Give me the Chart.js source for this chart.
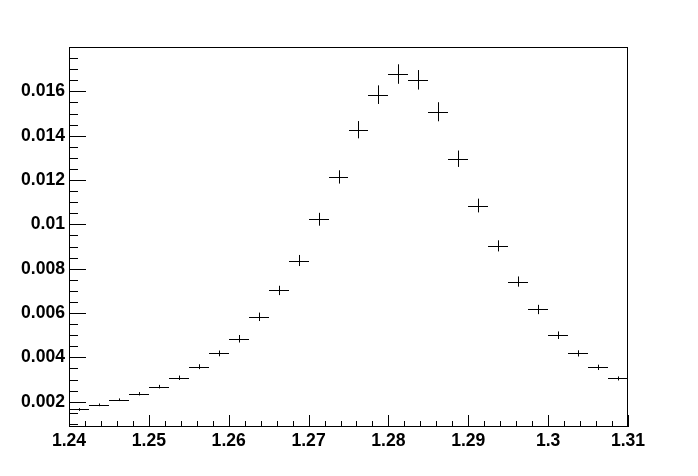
<!DOCTYPE html>
<html>
<head>
<meta charset="utf-8">
<script src="https://cdn.jsdelivr.net/npm/chart.js@4.4.1/dist/chart.umd.min.js"></script>
<style>
  html, body { margin: 0; padding: 0; background: #fff; }
  #wrap { width: 698px; height: 476px; }
</style>
</head>
<body>
<div id="wrap"><canvas id="histo" width="698" height="476"></canvas></div>
<script>
// Histogram content (bin centres, contents, errors)
const binCenters = [
    1.24125, 1.24375, 1.24625, 1.24875, 1.25125, 1.25375, 1.25625, 1.25875,
    1.26125, 1.26375, 1.26625, 1.26875, 1.27125, 1.27375, 1.27625, 1.27875,
    1.28125, 1.28375, 1.28625, 1.28875, 1.29125, 1.29375, 1.29625, 1.29875,
    1.30125, 1.30375, 1.30625, 1.30875
];
const binValues = [
    0.00165, 0.00186, 0.00209, 0.00236, 0.00268, 0.00308, 0.00358, 0.00418,
    0.00484, 0.00583, 0.00702, 0.00837, 0.01023, 0.01214, 0.01427, 0.01585,
    0.01678, 0.01652, 0.01508, 0.01296, 0.01085, 0.00903, 0.00742, 0.00616,
    0.00500, 0.00418, 0.00355, 0.00305
];
const binErrors = [
    0.00006, 0.00006, 0.00006, 0.000075, 0.00008, 0.0001, 0.00011, 0.00013,
    0.00017, 0.00019, 0.00021, 0.00025, 0.00029, 0.0003, 0.00039, 0.00042,
    0.00044, 0.00044, 0.00043, 0.00037, 0.00031, 0.00025, 0.00023, 0.00021,
    0.00017, 0.00014, 0.00012, 0.00009
];
const binWidth = 0.0025;

const xTickLabels = [1.24, 1.25, 1.26, 1.27, 1.28, 1.29, 1.3, 1.31];
const yTickLabels = [0.002, 0.004, 0.006, 0.008, 0.01, 0.012, 0.014, 0.016];

const xRange = [1.24, 1.31];
const yRange = [0.00086, 0.018];

// ROOT-like frame, inward ticks and error-bar markers
const rootStyle = {
    id: 'rootStyle',
    afterDatasetsDraw(chart) {
        const { ctx, chartArea: a, scales: { x, y } } = chart;
        ctx.save();
        ctx.strokeStyle = '#000';
        ctx.lineWidth = 1;

        // error bars
        ctx.beginPath();
        binCenters.forEach((c, i) => {
            const x0 = Math.round(x.getPixelForValue(c - binWidth / 2));
            const x1 = Math.round(x.getPixelForValue(c + binWidth / 2));
            const xc = Math.round(x.getPixelForValue(c)) + 0.5;
            const yc = Math.round(y.getPixelForValue(binValues[i])) + 0.5;
            const yLo = y.getPixelForValue(binValues[i] - binErrors[i]);
            const yHi = y.getPixelForValue(binValues[i] + binErrors[i]);
            ctx.moveTo(x0, yc);
            ctx.lineTo(x1, yc);
            ctx.moveTo(xc, yHi);
            ctx.lineTo(xc, yLo);
        });
        ctx.stroke();

        // frame
        ctx.strokeRect(Math.round(a.left) + 0.5, Math.round(a.top) + 0.5,
            Math.round(a.right - a.left) - 1, Math.round(a.bottom - a.top) - 1);

        // x ticks (minor every 0.002, major every 0.01)
        ctx.beginPath();
        const yb = Math.round(a.bottom);
        for (let k = 0; k <= 35; k++) {
            const v = xRange[0] + k * 0.002;
            const px = Math.round(x.getPixelForValue(v)) + 0.5;
            const len = (k % 5 === 0) ? 12 : 6;
            ctx.moveTo(px, yb);
            ctx.lineTo(px, yb - len);
        }
        // y ticks (minor every 0.0005, major every 0.002)
        const xl = Math.round(a.left);
        for (let k = 2; k <= 36; k++) {
            const v = k * 0.0005;
            if (v < yRange[0] || v > yRange[1]) continue;
            const py = Math.round(y.getPixelForValue(v)) + 0.5;
            const len = (k % 4 === 0) ? 17 : 9;
            ctx.moveTo(xl, py);
            ctx.lineTo(xl + len, py);
        }
        ctx.stroke();
        ctx.restore();
    }
};

const labelFont = { family: "'Liberation Sans', Arial, sans-serif", size: 17.6, weight: 'bold' };

new Chart(document.getElementById('histo'), {
    type: 'scatter',
    data: {
        datasets: [{
            data: binCenters.map((c, i) => ({ x: c, y: binValues[i] })),
            pointRadius: 0,
            showLine: false
        }]
    },
    options: {
        responsive: false,
        animation: false,
        layout: { padding: { top: 47, right: 70, left: 0, bottom: 0 } },
        plugins: { legend: { display: false }, tooltip: { enabled: false } },
        scales: {
            x: {
                type: 'linear',
                min: xRange[0],
                max: xRange[1],
                grid: { display: false, drawTicks: false },
                border: { display: false },
                afterBuildTicks: s => { s.ticks = xTickLabels.map(v => ({ value: v })); },
                afterFit: s => { s.height = 49; },
                ticks: {
                    color: '#000',
                    font: labelFont,
                    padding: 4,
                    maxRotation: 0,
                    autoSkip: false,
                    callback: v => String(+v.toFixed(3))
                }
            },
            y: {
                type: 'linear',
                min: yRange[0],
                max: yRange[1],
                grid: { display: false, drawTicks: false },
                border: { display: false },
                afterBuildTicks: s => { s.ticks = yTickLabels.map(v => ({ value: v })); },
                afterFit: s => { s.width = 69; },
                ticks: {
                    color: '#000',
                    font: labelFont,
                    padding: 4,
                    autoSkip: false,
                    callback: v => String(+v.toFixed(4))
                }
            }
        }
    },
    plugins: [rootStyle]
});
</script>
</body>
</html>
